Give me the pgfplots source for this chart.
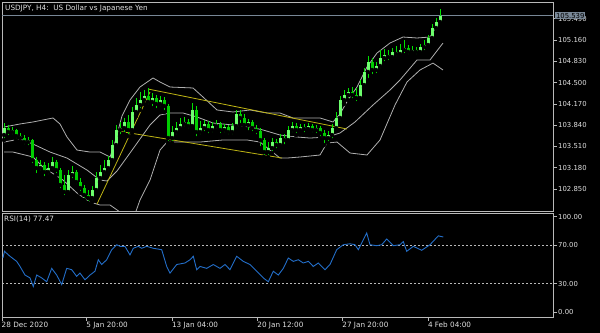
\documentclass[border=0pt]{standalone}
\usepackage{pgfplots}
\usepackage{pgfplotstable}
\pgfplotsset{compat=1.18}
\usepackage{fontspec}
\setmainfont{DejaVu Sans}
\definecolor{frame}{RGB}{185,185,185}
\definecolor{txt}{RGB}{225,225,225}
\definecolor{wick}{RGB}{0,225,0}
\definecolor{bull}{RGB}{110,255,110}
\definecolor{bear}{RGB}{0,205,0}
\definecolor{band}{RGB}{175,175,175}
\definecolor{chan}{RGB}{190,180,20}
\definecolor{rsi}{RGB}{35,110,200}
\definecolor{pline}{RGB}{120,135,150}
\newcommand{\tf}{\fontsize{6.9}{8}\selectfont}
\newcommand{\lf}{\fontsize{7.3}{8}\selectfont}

\pgfplotstableread{
x o h l c
4 103.687 103.873 103.609 103.795
8 103.795 103.842 103.656 103.733
12 103.733 103.811 103.671 103.764
16 103.764 103.780 103.609 103.671
20 103.671 103.718 103.578 103.640
24 103.640 103.687 103.516 103.578
28 103.578 103.656 103.501 103.609
32 103.609 103.625 103.222 103.299
36 103.299 103.346 103.067 103.175
40 103.175 103.299 103.113 103.222
44 103.222 103.268 103.020 103.113
48 103.113 103.253 103.051 103.175
52 103.175 103.346 103.144 103.268
56 103.268 103.299 103.067 103.144
60 103.144 103.175 102.834 102.912
64 102.912 103.067 102.726 102.803
68 102.803 103.144 102.772 103.067
72 103.067 103.206 102.989 103.113
76 103.113 103.144 102.896 102.958
80 102.958 103.020 102.788 102.865
84 102.865 102.912 102.679 102.757
88 102.757 102.834 102.633 102.710
92 102.710 102.896 102.648 102.834
96 102.834 103.113 102.788 103.020
100 103.020 103.222 102.958 103.113
104 103.113 103.299 103.051 103.175
108 103.175 103.361 103.113 103.299
112 103.299 103.609 103.268 103.532
116 103.532 103.842 103.485 103.764
120 103.764 103.889 103.671 103.795
124 103.795 103.951 103.702 103.889
128 103.889 103.997 103.671 103.764
132 103.764 104.121 103.718 104.044
136 104.044 104.261 103.982 104.152
140 104.152 104.354 104.075 104.230
144 104.230 104.385 104.168 104.292
148 104.292 104.416 104.137 104.199
152 104.199 104.338 104.106 104.261
156 104.261 104.307 104.075 104.168
160 104.168 104.292 104.106 104.230
164 104.230 104.276 104.044 104.137
168 104.137 104.168 103.563 103.640
172 103.640 103.826 103.563 103.733
176 103.733 103.889 103.671 103.795
180 103.795 103.951 103.749 103.858
184 103.858 103.966 103.795 103.889
188 103.889 103.935 103.764 103.826
192 103.826 104.183 103.795 104.075
196 104.075 104.137 103.640 103.733
200 103.733 103.904 103.671 103.795
204 103.795 103.920 103.718 103.858
208 103.858 103.904 103.687 103.764
212 103.764 103.889 103.702 103.826
216 103.826 103.920 103.764 103.858
220 103.858 103.889 103.687 103.764
224 103.764 103.858 103.702 103.811
228 103.811 103.842 103.671 103.733
232 103.733 103.873 103.671 103.826
236 103.826 104.075 103.764 104.013
240 104.013 104.075 103.842 103.951
244 103.951 104.013 103.795 103.842
248 103.842 103.935 103.733 103.889
252 103.889 103.920 103.718 103.795
256 103.795 103.842 103.671 103.749
260 103.749 103.795 103.485 103.609
264 103.609 103.640 103.346 103.423
268 103.423 103.578 103.346 103.485
272 103.485 103.640 103.408 103.578
276 103.578 103.625 103.454 103.532
280 103.532 103.702 103.485 103.640
284 103.640 103.702 103.516 103.609
288 103.609 103.826 103.563 103.764
292 103.764 103.889 103.702 103.826
296 103.826 103.873 103.687 103.764
300 103.764 103.858 103.718 103.811
304 103.811 103.858 103.702 103.780
308 103.780 103.873 103.733 103.826
312 103.826 103.858 103.702 103.764
316 103.764 103.842 103.687 103.795
320 103.795 103.826 103.640 103.718
324 103.718 103.764 103.532 103.640
328 103.640 103.749 103.563 103.687
332 103.687 103.858 103.609 103.795
336 103.795 104.044 103.764 103.951
340 103.951 104.292 103.889 104.230
344 104.230 104.385 104.168 104.307
348 104.307 104.416 104.230 104.354
352 104.354 104.431 104.230 104.307
356 104.307 104.416 104.183 104.261
360 104.261 104.540 104.199 104.462
364 104.462 104.726 104.416 104.664
368 104.664 104.912 104.540 104.819
372 104.819 104.881 104.602 104.695
376 104.695 104.819 104.617 104.757
380 104.757 105.005 104.695 104.881
384 104.881 105.020 104.803 104.927
388 104.927 105.005 104.819 104.896
392 104.896 105.036 104.850 104.974
396 104.974 105.067 104.881 104.943
400 104.943 105.098 104.896 105.005
404 105.005 105.160 104.927 105.036
408 105.036 105.082 104.912 104.974
412 104.974 105.067 104.927 105.005
416 105.005 105.051 104.912 104.974
420 104.974 105.098 104.943 105.051
424 105.051 105.160 104.974 105.082
428 105.082 105.237 105.036 105.191
432 105.191 105.408 105.160 105.346
436 105.346 105.501 105.284 105.439
440 105.439 105.640 105.392 105.539
}\candles

\pgfplotstableread{
x up
4 103.811
20 103.858
33 103.889
53 103.951
60 103.858
67 103.656
77 103.454
90 103.423
100 103.423
110 103.346
115 103.578
122 103.982
130 104.230
140 104.431
153 104.571
160 104.509
170 104.431
193 104.416
203 104.276
217 104.075
233 104.044
250 104.075
267 104.028
280 104.028
293 103.951
307 103.951
320 103.951
333 103.889
340 104.013
348 104.230
357 104.431
367 104.741
377 104.958
390 105.113
403 105.206
417 105.191
430 105.206
440 105.439
}\bbup

\pgfplotstableread{
x mid
4 103.578
20 103.625
33 103.547
50 103.423
67 103.330
87 103.144
100 102.989
107 102.974
117 103.129
130 103.408
150 103.842
160 103.997
170 104.028
183 104.028
197 103.966
213 103.873
233 103.842
250 103.811
263 103.765
280 103.687
297 103.656
310 103.640
327 103.656
340 103.718
355 103.889
373 104.152
390 104.385
400 104.540
417 104.850
430 104.850
443 105.113
}\bbmid

\pgfplotstableread{
x lo
4 103.423
13 103.423
33 103.346
43 103.191
63 102.989
77 102.788
90 102.648
100 102.602
110 102.602
120 102.493
128 102.400
135 102.462
140 102.679
150 102.989
160 103.454
167 103.578
200 103.578
223 103.610
247 103.610
260 103.578
280 103.330
287 103.330
300 103.346
320 103.377
327 103.563
337 103.578
350 103.408
367 103.377
380 103.610
395 104.152
407 104.509
420 104.695
433 104.802
443 104.695
}\bblow

\pgfplotstableread{
x r
3 57
4.5 63.8
10 58.6
16.7 53.3
20 48
25 39
30 36
33.3 27
36.7 39
41.7 36
46.7 32
51.7 46
56.7 39
61.7 29
66.7 46
71.7 44.6
76.7 37.6
80 41
85 34
90 39
95 43
98.3 55
101.7 50
106.7 55
111.7 65.5
116.7 70.7
120 69
125 69
130 60
133.3 67
138.3 69
141.7 67
146.7 69
153.3 67
161.7 65.5
166.7 48
170 41
176.7 50
185 51.6
190 55
193.3 58.6
196.7 44.6
200 48
206.7 46
213.3 50
220 46
225 50
230 44.6
236.7 58.6
243.3 53.3
250 50
256.7 43
263.3 36
268.3 32
273.3 43
278.3 39
283.3 46
288.3 56.8
293.3 53.3
298.3 55
303.3 51.6
308.3 53.3
313.3 48
318.3 51.6
325 44.6
330 50
336.7 65.5
343.3 70.7
350 71.7
355 70.7
358.3 65.5
361.7 72.5
366.7 83
370 70.7
376.7 69.7
381.7 70.7
386.7 76.7
393.3 69.7
400 70.7
403.3 74
406.7 63.8
413.3 69
421.7 64.9
430 70.7
438.3 80
443.3 78.8
}\rsitab

\begin{document}
\begin{tikzpicture}
\fill[black] (0bp,0bp) rectangle (600bp,333bp);
\begin{axis}[
  at={(2bp,122bp)}, anchor=south west,
  width=551bp, height=209bp, scale only axis,
  xmin=2, xmax=553, ymin=102.509, ymax=105.749,
  axis line style={frame, line width=0.8bp},
  xtick=\empty,
  ytick={102.850,103.180,103.510,103.840,104.170,104.500,104.830,105.160,105.490},
  yticklabel pos=right, ytick pos=right,
  tick align=outside, major tick length=4bp,
  tick style={frame, line width=0.6bp},
  yticklabel style={font=\tf, text=txt, anchor=west, inner sep=1bp,
    /pgf/number format/fixed, /pgf/number format/fixed zerofill,
    /pgf/number format/precision=3, /pgf/number format/1000 sep={},
    /pgf/number format/assume math mode=true},
]
\addplot[band, line width=0.8bp] table[x=x,y=up] {\bbup};
\addplot[band, line width=0.8bp] table[x=x,y=mid] {\bbmid};
\addplot[band, line width=0.8bp] table[x=x,y=lo] {\bblow};
\addplot[chan, line width=0.8bp] coordinates {(97,102.617) (150,104.354)};
\addplot[chan, line width=0.8bp] coordinates {(148,104.400) (347,103.780)};
\addplot[chan, line width=0.8bp] coordinates {(118,103.749) (282,103.330)};
\addplot[pline, line width=0.7bp] coordinates {(2,105.539) (553,105.539)};
% wicks
\addplot[only marks, mark=none, error bars/.cd, y dir=plus, y explicit, error mark=none,
  error bar style={line width=0.9bp, wick}]
  table[x=x, y=l, y error expr=\thisrow{h}-\thisrow{l}] {\candles};
% bodies
\addplot[only marks, mark=none,
  restrict expr to domain={\thisrow{c}-\thisrow{o}}{0:10},
  error bars/.cd, y dir=plus, y explicit, error mark=none,
  error bar style={line width=3bp, bull}]
  table[x=x, y=o, y error expr=\thisrow{c}-\thisrow{o}] {\candles};
\addplot[only marks, mark=none,
  restrict expr to domain={\thisrow{o}-\thisrow{c}}{0.0001:10},
  error bars/.cd, y dir=plus, y explicit, error mark=none,
  error bar style={line width=3bp, bear}]
  table[x=x, y=c, y error expr=\thisrow{o}-\thisrow{c}] {\candles};
\coordinate (pl) at (axis cs:553,105.539);
\end{axis}
\node[fill=pline, text=black, inner sep=0.8bp, anchor=west, font=\tf] at ([xshift=2bp]pl) {105.539};
\node[anchor=west, text=txt, font=\lf, inner sep=0pt] at (5bp,325bp) {USDJPY, H4:\ \ US Dollar vs Japanese Yen};

\begin{axis}[
  at={(2bp,16bp)}, anchor=south west,
  width=551bp, height=104bp, scale only axis,
  xmin=2, xmax=553, ymin=-4.9, ymax=103.9,
  axis line style={frame, line width=0.8bp},
  xtick={2,86.7,172.3,257.7,342.7,428.3},
  xticklabels={28 Dec 2020, 5 Jan 20:00, 13 Jan 04:00, 20 Jan 12:00, 27 Jan 20:00, 4 Feb 04:00},
  xtick pos=bottom,
  ytick={0,30,70,100},
  yticklabel pos=right, ytick pos=right,
  tick align=outside, major tick length=4bp,
  tick style={frame, line width=0.6bp},
  xticklabel style={font=\lf, text=txt, anchor=north west, inner sep=0pt, xshift=-0.5bp, yshift=-1bp},
  yticklabel style={font=\tf, text=txt, anchor=west, inner sep=1bp,
    /pgf/number format/fixed, /pgf/number format/fixed zerofill,
    /pgf/number format/precision=2, /pgf/number format/assume math mode=true},
]
\addplot[frame, line width=0.6bp, dash pattern=on 2bp off 2bp] coordinates {(2,70) (553,70)};
\addplot[frame, line width=0.6bp, dash pattern=on 2bp off 2bp] coordinates {(2,30) (553,30)};
\addplot[rsi, line width=0.9bp] table[x=x,y=r] {\rsitab};
\end{axis}
\node[anchor=west, text=txt, font=\lf, inner sep=0pt] at (4bp,114bp) {RSI(14) 77.47};
\end{tikzpicture}
\end{document}
